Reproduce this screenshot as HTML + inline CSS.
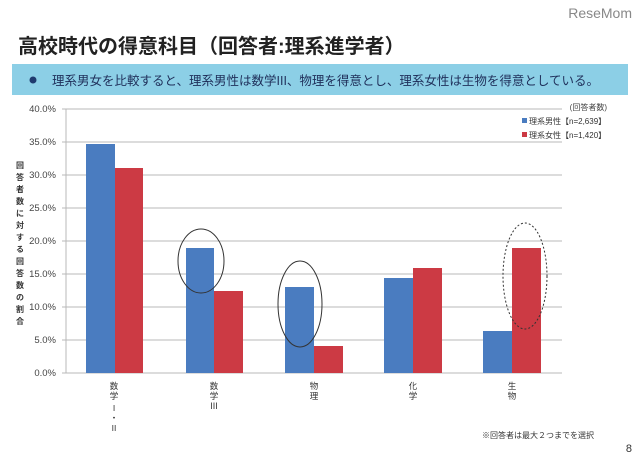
<!DOCTYPE html>
<html><head><meta charset="utf-8"><style>
body{margin:0;width:640px;height:463px;background:#fff;overflow:hidden;font-family:"Liberation Sans","Noto Sans CJK JP",sans-serif;}
</style></head><body>
<svg width="640" height="463" xmlns="http://www.w3.org/2000/svg" font-family="Liberation Sans, Noto Sans CJK JP, sans-serif">
<text x="632" y="18" text-anchor="end" font-size="14" fill="#888">ReseMom</text>
<text x="18" y="53" font-size="20" font-weight="bold" fill="#222">高校時代の得意科目（回答者:理系進学者）</text>
<rect x="12" y="64" width="616" height="31" fill="#8ccfe6"/>
<circle cx="33" cy="80" r="3.5" fill="#1f3a6e"/>
<text x="52" y="85" font-size="12.5" fill="#1f2f5a">理系男女を比較すると、理系男性は数学III、物理を得意とし、理系女性は生物を得意としている。</text>
<g stroke="#b8b8b8" stroke-width="1">
<line x1="62" y1="109" x2="562" y2="109"/><line x1="62" y1="142" x2="562" y2="142"/>
<line x1="62" y1="175" x2="562" y2="175"/><line x1="62" y1="208" x2="562" y2="208"/>
<line x1="62" y1="241" x2="562" y2="241"/><line x1="62" y1="274" x2="562" y2="274"/>
<line x1="62" y1="307" x2="562" y2="307"/><line x1="62" y1="340" x2="562" y2="340"/>
<line x1="62" y1="373" x2="562" y2="373"/><line x1="66" y1="109" x2="66" y2="373"/>
</g>
<g font-size="9.5" fill="#444" text-anchor="end">
<text x="56" y="112">40.0%</text><text x="56" y="145">35.0%</text><text x="56" y="178">30.0%</text>
<text x="56" y="211">25.0%</text><text x="56" y="244">20.0%</text><text x="56" y="277">15.0%</text>
<text x="56" y="310">10.0%</text><text x="56" y="343">5.0%</text><text x="56" y="376">0.0%</text>
</g>
<g font-size="8" font-weight="bold" fill="#333" text-anchor="middle">
<text x="20" y="168">回</text><text x="20" y="180">答</text><text x="20" y="192">者</text><text x="20" y="204">数</text>
<text x="20" y="216">に</text><text x="20" y="228">対</text><text x="20" y="240">す</text><text x="20" y="252">る</text>
<text x="20" y="264">回</text><text x="20" y="276">答</text><text x="20" y="288">数</text><text x="20" y="300">の</text>
<text x="20" y="312">割</text><text x="20" y="324">合</text>
</g>
<g fill="#4a7cc0">
<rect x="86" y="144" width="29" height="229"/><rect x="186" y="248" width="28" height="125"/>
<rect x="285" y="287" width="29" height="86"/><rect x="384" y="278" width="29" height="95"/>
<rect x="483" y="331" width="29" height="42"/>
</g>
<g fill="#cc3a44">
<rect x="115" y="168" width="28" height="205"/><rect x="214" y="291" width="29" height="82"/>
<rect x="314" y="346" width="29" height="27"/><rect x="413" y="268" width="29" height="105"/>
<rect x="512" y="248" width="29" height="125"/>
</g>
<ellipse cx="201" cy="261" rx="23" ry="32" fill="none" stroke="#333" stroke-width="1"/>
<ellipse cx="300" cy="304" rx="22" ry="43" fill="none" stroke="#333" stroke-width="1"/>
<ellipse cx="525" cy="276" rx="22" ry="53" fill="none" stroke="#333" stroke-width="1" stroke-dasharray="2,2"/>
<g font-size="8.5" fill="#333" text-anchor="middle">
<text x="114" y="389">数</text><text x="114" y="399">学</text><text x="114" y="411">I</text><text x="114" y="421">・</text><text x="114" y="431">II</text>
<text x="214" y="389">数</text><text x="214" y="399">学</text><text x="214" y="409">Ⅲ</text>
<text x="314" y="389">物</text><text x="314" y="399">理</text>
<text x="413" y="389">化</text><text x="413" y="399">学</text>
<text x="512" y="389">生</text><text x="512" y="399">物</text>
</g>
<text x="607" y="110" font-size="8" fill="#444" text-anchor="end">(回答者数)</text>
<rect x="522" y="118" width="5" height="5" fill="#4a7cc0"/>
<text x="529" y="124" font-size="8" fill="#333">理系男性【n=2,639】</text>
<rect x="522" y="132" width="5" height="5" fill="#cc3a44"/>
<text x="529" y="138" font-size="8" fill="#333">理系女性【n=1,420】</text>
<text x="594" y="438" font-size="8" fill="#333" text-anchor="end">※回答者は最大２つまでを選択</text>
<text x="632" y="452" font-size="11" fill="#333" text-anchor="end">8</text>
</svg>
</body></html>
